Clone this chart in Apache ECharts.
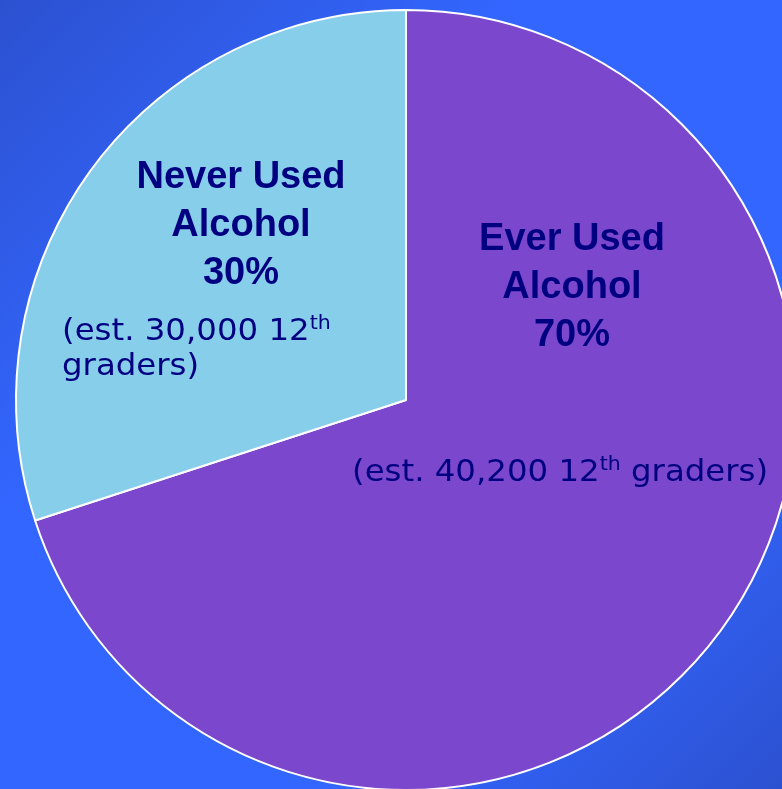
<!DOCTYPE html>
<html>
<head>
<meta charset="utf-8">
<script src="https://cdn.jsdelivr.net/npm/echarts@6/dist/echarts.min.js"></script>
<style>
  html, body { margin: 0; padding: 0; }
  #chart { width: 782px; height: 789px; }
</style>
</head>
<body>
<div id="chart"></div>
<script>
// ---- data ----
const categories = ['Ever Used Alcohol', 'Never Used Alcohol'];
const percents = [70, 30];
const estimates = [40200, 30000];
const sliceColors = ['#7b47cc', '#87ceeb'];

const chart = echarts.init(document.getElementById('chart'), null, { renderer: 'canvas' });

const navy = '#000080';
function fmtNum(v) { return v.toLocaleString('en-US'); }

const noteRich = {
  n: { font: '30px "DejaVu Sans"', fontFamily: 'DejaVu Sans', fontSize: 30, lineHeight: 35, fill: navy },
  sup: { font: '19px "DejaVu Sans"', fontFamily: 'DejaVu Sans', fontSize: 19, lineHeight: 20, verticalAlign: 'top', fill: navy }
};

// label block centres (pixels)
const labelPos = [[572, 288], [241, 226]];

const option = {
  backgroundColor: {
    type: 'linear', x: 0, y: 0, x2: 1, y2: 1,
    colorStops: [
      { offset: 0, color: '#2c51d0' },
      { offset: 0.33, color: '#3366ff' },
      { offset: 0.72, color: '#3366ff' },
      { offset: 1, color: '#2c51d0' }
    ]
  },
  animation: false,
  series: [{
    type: 'pie',
    center: [406, 400],
    radius: 390,
    startAngle: 90,
    clockwise: true,
    silent: true,
    data: categories.map((c, i) => ({ name: c, value: percents[i], itemStyle: { color: sliceColors[i] } })),
    itemStyle: { borderColor: '#ffffff', borderWidth: 2 },
    label: {
      show: true,
      position: 'inside',
      color: navy,
      fontFamily: 'Liberation Sans',
      fontWeight: 'bold',
      fontSize: 38,
      lineHeight: 48,
      align: 'center',
      formatter: p => p.name.replace(' Alcohol', '\nAlcohol') + '\n' + p.value + '%'
    },
    labelLine: { show: false },
    labelLayout: p => ({
      x: labelPos[p.dataIndex][0],
      y: labelPos[p.dataIndex][1],
      align: 'center',
      verticalAlign: 'middle'
    }),
    emphasis: { disabled: true }
  }],
  graphic: [
    {
      type: 'text', x: 352, y: 456, scaleX: 1.08, silent: true, z: 100,
      style: {
        text: '{n|(est. ' + fmtNum(estimates[0]) + ' 12}{sup|th}{n| graders)}',
        rich: noteRich, fill: navy, fontFamily: 'DejaVu Sans', fontSize: 30,
        align: 'left', verticalAlign: 'top'
      }
    },
    {
      type: 'text', x: 62, y: 315, scaleX: 1.08, silent: true, z: 100,
      style: {
        text: '{n|(est. ' + fmtNum(estimates[1]) + ' 12}{sup|th}\n{n|graders)}',
        rich: noteRich, fill: navy, fontFamily: 'DejaVu Sans', fontSize: 30,
        align: 'left', verticalAlign: 'top'
      }
    }
  ]
};
chart.setOption(option);
</script>
</body>
</html>
